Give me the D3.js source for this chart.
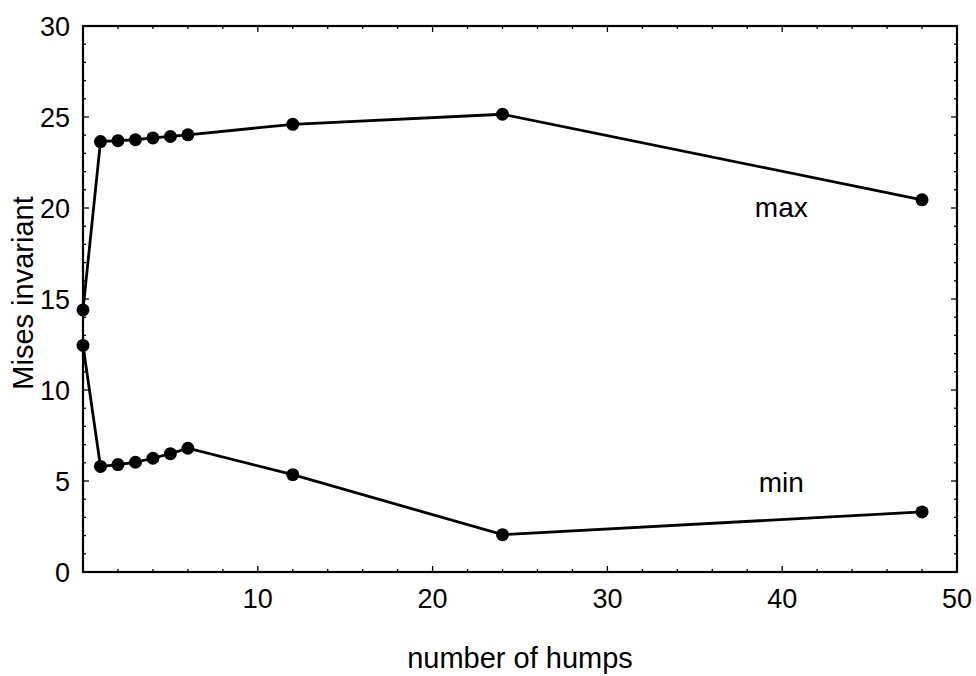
<!DOCTYPE html>
<html>
<head>
<meta charset="utf-8">
<script src="https://cdn.jsdelivr.net/npm/d3@7"></script>
<style>
  body { margin: 0; background: #fff; }
  svg text { font-family: "Liberation Sans", Arial, sans-serif; fill: #000; }
</style>
</head>
<body>
<div id="chart"></div>
<script>
// number of humps
const humps = [0, 1, 2, 3, 4, 5, 6, 12, 24, 48];
// Mises invariant, max and min
const maxVals = [14.4, 23.65, 23.7, 23.75, 23.85, 23.93, 24.02, 24.6, 25.15, 20.45];
const minVals = [12.45, 5.8, 5.9, 6.03, 6.25, 6.5, 6.8, 5.35, 2.05, 3.3];
const xTicks = [10, 20, 30, 40, 50];
const yTicks = [0, 5, 10, 15, 20, 25, 30];

const width = 976, height = 676;
const margin = {left: 83, right: 19, top: 26, bottom: 104};

const svg = d3.select("#chart").append("svg")
    .attr("width", width)
    .attr("height", height);

const x = d3.scaleLinear().domain([0, 50]).range([margin.left, width - margin.right]);
const y = d3.scaleLinear().domain([0, 30]).range([height - margin.bottom, margin.top]);

// frame
svg.append("rect")
    .attr("x", x(0)).attr("y", y(30))
    .attr("width", x(50) - x(0)).attr("height", y(0) - y(30))
    .attr("fill", "none").attr("stroke", "#000").attr("stroke-width", 2.2);

// inward ticks on all four sides
const xMinor = d3.range(2, 50, 2);
const yMinor = d3.range(1, 30, 1);
const tg = svg.append("g").attr("stroke", "#000").attr("stroke-width", 1.3);
xMinor.forEach(v => {
  const len = v % 10 === 0 ? 6 : 3;
  tg.append("line").attr("x1", x(v)).attr("x2", x(v)).attr("y1", y(0)).attr("y2", y(0) - len);
  tg.append("line").attr("x1", x(v)).attr("x2", x(v)).attr("y1", y(30)).attr("y2", y(30) + len);
});
yMinor.forEach(v => {
  const len = v % 5 === 0 ? 6 : 3;
  tg.append("line").attr("y1", y(v)).attr("y2", y(v)).attr("x1", x(0)).attr("x2", x(0) + len);
  tg.append("line").attr("y1", y(v)).attr("y2", y(v)).attr("x1", x(50)).attr("x2", x(50) - len);
});

// tick labels
svg.append("g").selectAll("text").data(xTicks).enter().append("text")
    .attr("x", d => x(d)).attr("y", y(0) + 36)
    .attr("text-anchor", "middle").attr("font-size", 27)
    .text(d => d);
svg.append("g").selectAll("text").data(yTicks).enter().append("text")
    .attr("x", x(0) - 13).attr("y", d => y(d) + 10)
    .attr("text-anchor", "end").attr("font-size", 27)
    .text(d => d);

// axis titles
svg.append("text")
    .attr("x", (x(0) + x(50)) / 2).attr("y", 668)
    .attr("text-anchor", "middle").attr("font-size", 29)
    .text("number of humps");
svg.append("text")
    .attr("transform", "translate(33,293) rotate(-90)")
    .attr("text-anchor", "middle").attr("font-size", 29)
    .text("Mises invariant");

// series
const line = d3.line().x(d => x(d[0])).y(d => y(d[1]));
[maxVals, minVals].forEach(vals => {
  const pts = humps.map((h, i) => [h, vals[i]]);
  svg.append("path").datum(pts)
      .attr("d", line)
      .attr("fill", "none").attr("stroke", "#000").attr("stroke-width", 2.8);
  svg.append("g").selectAll("circle").data(pts).enter().append("circle")
      .attr("cx", d => x(d[0])).attr("cy", d => y(d[1]))
      .attr("r", 6.5).attr("fill", "#000");
});

// annotations
svg.append("text").attr("x", x(39.95)).attr("y", y(19.5))
    .attr("font-size", 28).attr("text-anchor", "middle").text("max");
svg.append("text").attr("x", x(39.95)).attr("y", y(4.4))
    .attr("font-size", 28).attr("text-anchor", "middle").text("min");
</script>
</body>
</html>
